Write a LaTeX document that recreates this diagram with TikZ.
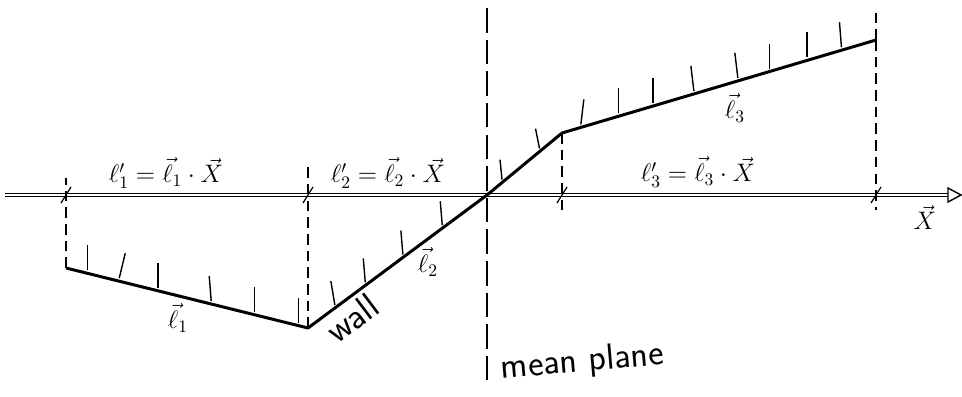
\documentclass[tikz,border=0pt]{standalone}
\usepackage{amsmath,amssymb}
\usepackage{tikz}
\usetikzlibrary{arrows.meta,calc,positioning}

\begin{document}
\begin{tikzpicture}[x=0.02cm,y=-0.02cm,>=Stealth,
    wall/.style={line width=1.7pt,line join=round},
    hatch/.style={line width=0.8pt},
    proj/.style={line width=0.6pt,dash pattern=on 6pt off 3.5pt},
    meanpl/.style={line width=1.1pt,dash pattern=on 14pt off 4pt},
    every node/.style={font=\Large},
    txt/.style={font=\huge\sffamily}]
        \useasboundingbox (0,0) rectangle (962,396);
        % axis
        \coordinate (O) at (5,195);
        \coordinate (Xend) at (948,195);
        \draw[double,double distance=1.6pt,line width=0.6pt] (O) -- (Xend);
        \draw[line width=0.8pt,fill=white] (Xend) ++(0,-7) -- ++(13,7) -- ++(-13,7) -- cycle;
        % wall corners
        \coordinate (A) at (66,268);
        \coordinate (B) at (308,328);
        \coordinate (C) at (487,195);
        \coordinate (D) at (562,133);
        \coordinate (E) at (876,40);
        % projections
        \draw[proj] (A) -- (66,178);
        \draw[proj] (B) -- (308,163);
        \draw[proj] (D) -- (562,212);
        \draw[proj] (E) -- (876,210);
        \draw[proj] (E) -- (876,8);
        \draw[meanpl] (487,8) -- (487,382);
        \foreach \x in {66,308,562,876}{\draw[line width=0.7pt] (\x-5,203)--(\x+5,187);}
        % hatching
        \foreach \t/\s in {0.09/0,0.22/6,0.38/0,0.60/-2,0.78/0,0.96/0}{\draw[hatch] ($(A)!\t!(B)+(0,-3)$) -- ++(\s,-25);}
        \foreach \t/\s in {0.15/-4,0.32/-2,0.53/-2,0.75/-2}{\draw[hatch] ($(B)!\t!(C)+(0,-3)$) -- ++(\s,-24);}
        \foreach \t/\s in {0.2/-2,0.7/-4}{\draw[hatch] ($(C)!\t!(D)+(0,-3)$) -- ++(\s,-20);}
        \foreach \t/\s in {0.06/3,0.18/0,0.29/0,0.42/-3,0.56/-3,0.66/0,0.78/0,0.89/-2}{\draw[hatch] ($(D)!\t!(E)+(0,-3)$) -- ++(\s,-25);}
        \draw[wall] (A) -- (B) -- (C) -- (D) -- (E);
        % labels
        \node[anchor=south,inner sep=1pt] (l1p) at (166,191) {$\ell'_1=\vec{\ell}_1\cdot\vec{X}$};
        \node[anchor=south,inner sep=1pt] (l2p) at (388,191) {$\ell'_2=\vec{\ell}_2\cdot\vec{X}$};
        \node[anchor=south,inner sep=1pt] (l3p) at (698,190) {$\ell'_3=\vec{\ell}_3\cdot\vec{X}$};
        \node (l1) at (178,318) {$\vec{\ell}_1$};
        \node (l2) at (428,262) {$\vec{\ell}_2$};
        \node (l3) at (735,108) {$\vec{\ell}_3$};
        \node[anchor=north,inner sep=1pt] (X) at (925,203) {$\vec{X}$};
        \node[rotate=37,txt] (wl) at (352,318) {wall};
        \node[rotate=5,txt,anchor=west] (mp) at (495,370) {mean plane};
\end{tikzpicture}
\end{document}
